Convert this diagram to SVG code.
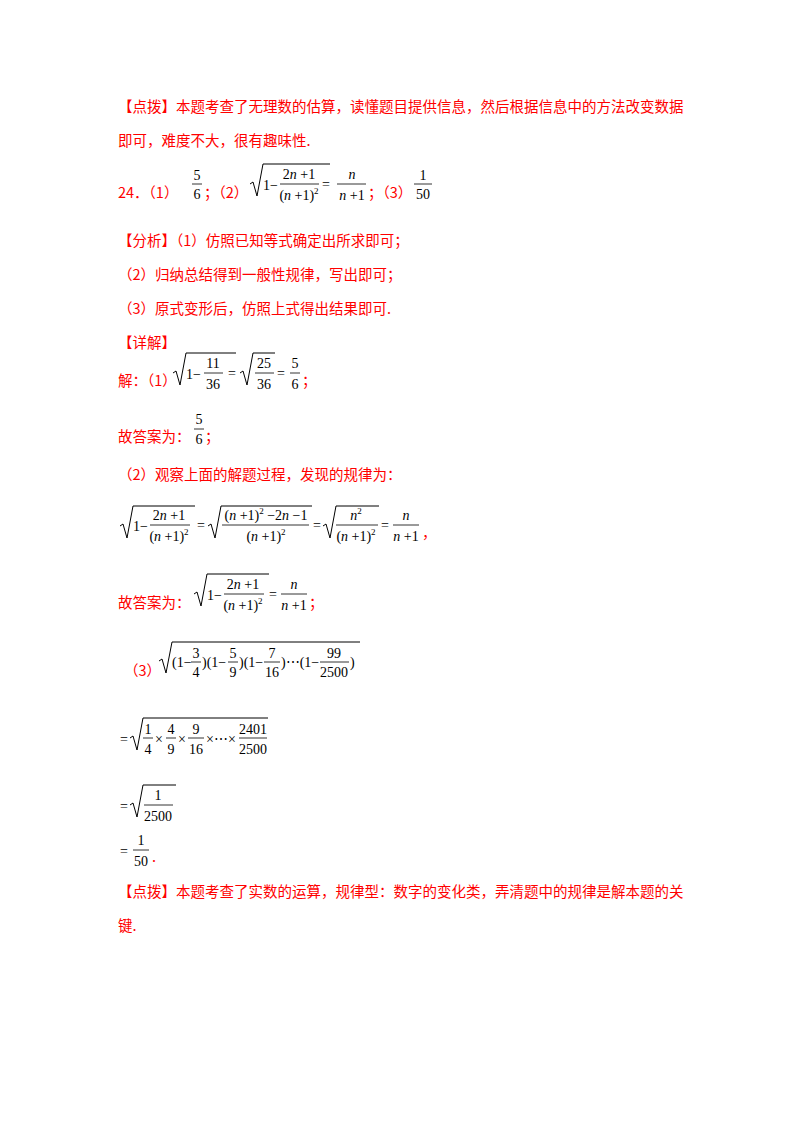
<svg xmlns="http://www.w3.org/2000/svg" width="800" height="1132" viewBox="0 0 800 1132">
<style>
.r{font-family:"Noto Sans CJK SC","Liberation Serif",sans-serif;font-size:14.5px;fill:#ff0000}
.m{font-family:"Liberation Serif",serif;font-size:14px;fill:#000}
.s{font-size:9px}
.i{font-style:italic}
.c{text-anchor:middle}
.sq{fill:none;stroke:#000;stroke-width:1}
.bar{stroke:#000;stroke-width:0.8}
</style>
<rect width="800" height="1132" fill="#fff"/>
<g id="text">
<text class="r" x="118" y="112">【点拨】本题考查了无理数的估算，读懂题目提供信息，然后根据信息中的方法改变数据</text>
<text class="r" x="118" y="146">即可，难度不大，很有趣味性.</text>
<text class="r" x="118" y="198">24．（1）</text>
<text class="m c" x="197" y="180">5</text><line class="bar" x1="192" y1="184" x2="202" y2="184"/><text class="m c" x="197" y="199">6</text>
<text class="r" x="204" y="198">；（2）</text>
<path class="sq" d="M250 184 l3 -2 l4 14 l6 -32 h67"/>
<text class="m" x="263" y="190">1−</text>
<text class="m c" x="299" y="179"><tspan>2</tspan><tspan class="i">n</tspan><tspan> +1</tspan></text>
<line class="bar" x1="280" y1="184" x2="319" y2="184"/>
<text class="m c" x="299" y="200">(<tspan class="i">n</tspan> +1)<tspan class="s" dy="-6">2</tspan></text>
<text class="m" x="322" y="189">=</text>
<text class="m c i" x="352" y="179">n</text><line class="bar" x1="337" y1="184" x2="366" y2="184"/><text class="m c" x="352" y="200"><tspan class="i">n</tspan> +1</text>
<text class="r" x="368" y="198">；（3）</text>
<text class="m c" x="423" y="180">1</text><line class="bar" x1="414" y1="184" x2="432" y2="184"/><text class="m c" x="423" y="199">50</text>

<text class="r" x="118" y="246">【分析】（1）仿照已知等式确定出所求即可；</text>
<text class="r" x="118" y="280">（2）归纳总结得到一般性规律，写出即可；</text>
<text class="r" x="118" y="314">（3）原式变形后，仿照上式得出结果即可.</text>
<text class="r" x="118" y="348">【详解】</text>

<text class="r" x="118" y="386">解：（1）</text>
<path class="sq" d="M173 373 l3 -2 l4 14 l6 -32 h50"/>
<text class="m" x="186" y="379">1−</text>
<text class="m c" x="213" y="368">11</text><line class="bar" x1="204" y1="373" x2="223" y2="373"/><text class="m c" x="213" y="389">36</text>
<text class="m" x="228" y="378">=</text>
<path class="sq" d="M240 373 l3 -2 l4 14 l6 -32 h22"/>
<text class="m c" x="264" y="368">25</text><line class="bar" x1="255" y1="373" x2="274" y2="373"/><text class="m c" x="264" y="389">36</text>
<text class="m" x="277" y="378">=</text>
<text class="m c" x="295" y="368">5</text><line class="bar" x1="290" y1="373" x2="300" y2="373"/><text class="m c" x="295" y="389">6</text>
<text class="r" x="302" y="386">；</text>

<text class="r" x="118" y="442">故答案为：</text>
<text class="m c" x="199" y="424">5</text><line class="bar" x1="194" y1="429" x2="204" y2="429"/><text class="m c" x="199" y="444">6</text>
<text class="r" x="205" y="442">；</text>

<text class="r" x="118" y="480">（2）观察上面的解题过程，发现的规律为：</text>

<path class="sq" d="M120 526 l3 -2 l4 14 l6 -32 h62"/>
<text class="m" x="133" y="531">1−</text>
<text class="m c" x="169" y="520"><tspan>2</tspan><tspan class="i">n</tspan><tspan> +1</tspan></text>
<line class="bar" x1="150" y1="525" x2="190" y2="525"/>
<text class="m c" x="169" y="541">(<tspan class="i">n</tspan> +1)<tspan class="s" dy="-6">2</tspan></text>
<text class="m" x="197" y="530">=</text>
<path class="sq" d="M208 526 l3 -2 l4 14 l6 -32 h91"/>
<text class="m c" x="266" y="520">(<tspan class="i">n</tspan> +1)<tspan class="s" dy="-6">2</tspan><tspan dy="6"> −2</tspan><tspan class="i">n</tspan><tspan> −1</tspan></text>
<line class="bar" x1="222" y1="525" x2="309" y2="525"/>
<text class="m c" x="266" y="541">(<tspan class="i">n</tspan> +1)<tspan class="s" dy="-6">2</tspan></text>
<text class="m" x="313" y="530">=</text>
<path class="sq" d="M323 526 l3 -2 l4 14 l6 -32 h43"/>
<text class="m c" x="356" y="520"><tspan class="i">n</tspan><tspan class="s" dy="-6">2</tspan></text>
<line class="bar" x1="336" y1="525" x2="378" y2="525"/>
<text class="m c" x="356" y="541">(<tspan class="i">n</tspan> +1)<tspan class="s" dy="-6">2</tspan></text>
<text class="m" x="381" y="530">=</text>
<text class="m c i" x="406" y="520">n</text><line class="bar" x1="393" y1="525" x2="419" y2="525"/><text class="m c" x="406" y="541"><tspan class="i">n</tspan> +1</text>
<text class="r" x="422" y="538">，</text>

<text class="r" x="118" y="608">故答案为：</text>
<path class="sq" d="M194 594 l3 -2 l4 14 l6 -32 h62"/>
<text class="m" x="207" y="600">1−</text>
<text class="m c" x="243" y="589"><tspan>2</tspan><tspan class="i">n</tspan><tspan> +1</tspan></text>
<line class="bar" x1="224" y1="594" x2="264" y2="594"/>
<text class="m c" x="243" y="610">(<tspan class="i">n</tspan> +1)<tspan class="s" dy="-6">2</tspan></text>
<text class="m" x="269" y="599">=</text>
<text class="m c i" x="294" y="589">n</text><line class="bar" x1="281" y1="594" x2="307" y2="594"/><text class="m c" x="294" y="610"><tspan class="i">n</tspan> +1</text>
<text class="r" x="309" y="608">；</text>

<text class="r" x="124" y="676">（3）</text>
<path class="sq" d="M159 661 l3 -2 l4 14 l6 -31 h188"/>
<text class="m" x="172" y="667">(1−</text>
<text class="m c" x="196" y="658">3</text><line class="bar" x1="191" y1="662" x2="201" y2="662"/><text class="m c" x="196" y="677">4</text>
<text class="m" x="202" y="667">)(1−</text>
<text class="m c" x="233" y="658">5</text><line class="bar" x1="228" y1="662" x2="238" y2="662"/><text class="m c" x="233" y="677">9</text>
<text class="m" x="239" y="667">)(1−</text>
<text class="m c" x="272" y="658">7</text><line class="bar" x1="264" y1="662" x2="280" y2="662"/><text class="m c" x="272" y="677">16</text>
<text class="m" x="281" y="667">)⋯(1−</text>
<text class="m c" x="334" y="658">99</text><line class="bar" x1="320" y1="662" x2="349" y2="662"/><text class="m c" x="334" y="677">2500</text>
<text class="m" x="350" y="667">)</text>

<text class="m" x="120" y="744">=</text>
<path class="sq" d="M130 738 l3 -2 l4 14 l6 -32 h125"/>
<text class="m c" x="148" y="734">1</text><line class="bar" x1="143" y1="738" x2="153" y2="738"/><text class="m c" x="148" y="754">4</text>
<text class="m" x="155" y="744">×</text>
<text class="m c" x="171" y="734">4</text><line class="bar" x1="166" y1="738" x2="176" y2="738"/><text class="m c" x="171" y="754">9</text>
<text class="m" x="178" y="744">×</text>
<text class="m c" x="196" y="734">9</text><line class="bar" x1="188" y1="738" x2="204" y2="738"/><text class="m c" x="196" y="754">16</text>
<text class="m" x="206" y="744">×⋯×</text>
<text class="m c" x="253" y="734">2401</text><line class="bar" x1="239" y1="738" x2="267" y2="738"/><text class="m c" x="253" y="754">2500</text>

<text class="m" x="120" y="811">=</text>
<path class="sq" d="M130 805 l3 -2 l4 14 l6 -32 h33"/>
<text class="m c" x="158" y="800">1</text><line class="bar" x1="144" y1="805" x2="173" y2="805"/><text class="m c" x="158" y="821">2500</text>

<text class="m" x="120" y="856">=</text>
<text class="m c" x="141" y="845">1</text><line class="bar" x1="133" y1="850" x2="149" y2="850"/><text class="m c" x="141" y="866">50</text>
<text class="r" x="152" y="862">.</text>

<text class="r" x="118" y="897">【点拨】本题考查了实数的运算，规律型：数字的变化类，弄清题中的规律是解本题的关</text>
<text class="r" x="118" y="931">键.</text>
</g>
</svg>
